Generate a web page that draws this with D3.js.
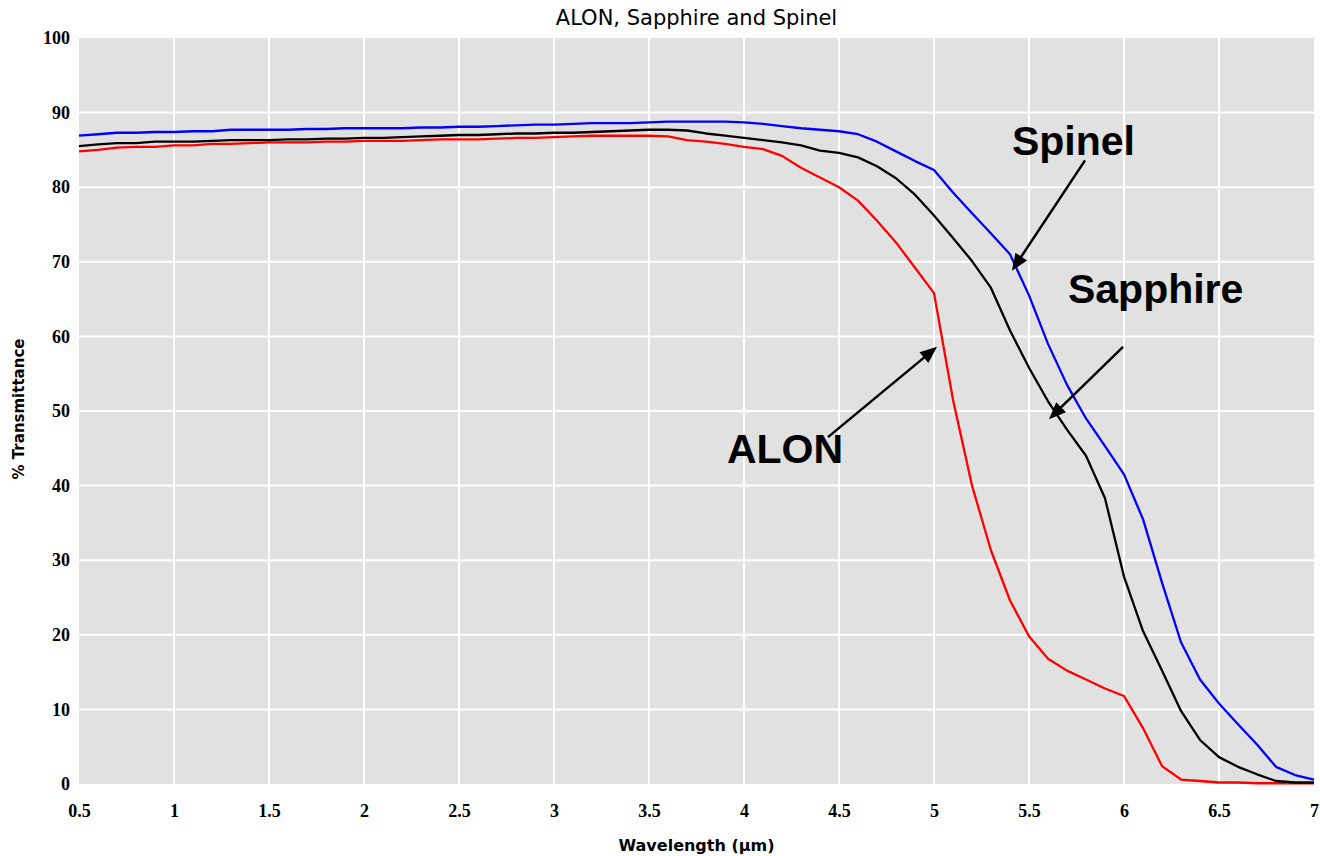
<!DOCTYPE html>
<html>
<head>
<meta charset="utf-8">
<script src="https://cdn.jsdelivr.net/npm/d3@7"></script>
<style>
  html, body { margin: 0; padding: 0; background: #ffffff; }
  svg { display: block; }
</style>
</head>
<body>
<svg id="chart" width="1320" height="856"></svg>
<script>
// ---------- data ----------
const wavelength = [0.5,0.6,0.7,0.8,0.9,1.0,1.1,1.2,1.3,1.4,1.5,1.6,1.7,1.8,1.9,2.0,2.1,2.2,2.3,2.4,2.5,2.6,2.7,2.8,2.9,3.0,3.1,3.2,3.3,3.4,3.5,3.6,3.7,3.8,3.9,4.0,4.1,4.2,4.3,4.4,4.5,4.6,4.7,4.8,4.9,5.0,5.1,5.2,5.3,5.4,5.5,5.6,5.7,5.8,5.9,6.0,6.1,6.2,6.3,6.4,6.5,6.6,6.7,6.8,6.9,7.0];

const spinel = [86.9,87.1,87.3,87.3,87.4,87.4,87.5,87.5,87.7,87.7,87.7,87.7,87.8,87.8,87.9,87.9,87.9,87.9,88.0,88.0,88.1,88.1,88.2,88.3,88.4,88.4,88.5,88.6,88.6,88.6,88.7,88.8,88.8,88.8,88.8,88.7,88.5,88.2,87.9,87.7,87.5,87.1,86.1,84.8,83.5,82.3,79.3,76.5,73.8,71.0,65.5,59.0,53.5,49.0,45.3,41.5,35.5,27.0,19.0,14.0,10.8,8.0,5.3,2.3,1.2,0.6];

const sapphire = [85.5,85.75,85.9,85.9,86.1,86.1,86.1,86.2,86.3,86.3,86.3,86.4,86.4,86.5,86.5,86.6,86.6,86.7,86.8,86.9,87.0,87.0,87.1,87.2,87.2,87.3,87.3,87.4,87.5,87.6,87.7,87.7,87.6,87.2,86.9,86.6,86.3,86.0,85.6,84.9,84.6,84.0,82.8,81.2,79.0,76.2,73.2,70.1,66.5,60.8,55.8,51.3,47.5,44.0,38.3,27.8,20.5,15.2,9.8,5.9,3.6,2.3,1.3,0.4,0.2,0.2];

const alon = [84.8,85.0,85.3,85.4,85.4,85.6,85.6,85.8,85.8,85.9,86.0,86.0,86.0,86.1,86.1,86.2,86.2,86.2,86.3,86.4,86.4,86.4,86.5,86.6,86.6,86.7,86.8,86.9,86.9,86.9,86.9,86.8,86.3,86.1,85.8,85.4,85.1,84.2,82.6,81.3,80.0,78.2,75.5,72.6,69.2,65.8,51.5,40.0,31.3,24.6,19.8,16.8,15.2,14.0,12.8,11.8,7.5,2.4,0.6,0.4,0.2,0.2,0.1,0.1,0.1,0.1];

const seriesNames = ["ALON", "Sapphire", "Spinel"];
const seriesValues = [alon, sapphire, spinel];
const seriesColors = ["#ff0000", "#000000", "#0000ff"];

const xTicks = [0.5,1,1.5,2,2.5,3,3.5,4,4.5,5,5.5,6,6.5,7];
const yTicks = [0,10,20,30,40,50,60,70,80,90,100];

const titleText = "ALON, Sapphire and Spinel";
const xTitle = "Wavelength (\u00b5m)";
const yTitle = "% Transmittance";

// annotations in data coordinates: label position, arrow start, arrow tip
const annotLabels = ["Spinel", "Sapphire", "ALON"];
const annotLabelPos = [[5.41, 84.3], [5.705, 64.5], [3.91, 43.0]];
const annotArrowFrom = [[5.795, 83.6], [5.995, 58.6], [4.442, 46.5]];
const annotArrowTo = [[5.41, 68.8], [5.605, 48.9], [5.016, 58.6]];

// ---------- layout ----------
const W = 1320, H = 856;
const margin = {left: 79, top: 38, right: 6, bottom: 72};
const pw = W - margin.left - margin.right;
const ph = H - margin.top - margin.bottom;

const svg = d3.select("#chart");
const x = d3.scaleLinear().domain([0.5, 7]).range([margin.left, margin.left + pw]);
const y = d3.scaleLinear().domain([0, 100]).range([margin.top + ph, margin.top]);

// plot background
svg.append("rect")
  .attr("x", margin.left).attr("y", margin.top)
  .attr("width", pw).attr("height", ph)
  .attr("fill", "#e1e1e1");

// grid
const grid = svg.append("g");
grid.selectAll("line.v").data(xTicks.filter(t => t > 0.5 && t < 7)).join("line")
  .attr("x1", d => x(d)).attr("x2", d => x(d))
  .attr("y1", margin.top).attr("y2", margin.top + ph)
  .attr("stroke", "#ffffff").attr("stroke-width", 2);
grid.selectAll("line.h").data(yTicks.filter(t => t > 0 && t < 100)).join("line")
  .attr("y1", d => y(d)).attr("y2", d => y(d))
  .attr("x1", margin.left).attr("x2", margin.left + pw)
  .attr("stroke", "#ffffff").attr("stroke-width", 2);

// axes (labels only)
const xAxis = d3.axisBottom(x).tickValues(xTicks).tickSize(0).tickPadding(20)
  .tickFormat(d => d3.format("~g")(d));
const gx = svg.append("g").attr("transform", `translate(0,${margin.top + ph})`).call(xAxis);
gx.select(".domain").remove();
gx.selectAll("text")
  .attr("font-family", "'Liberation Serif', 'Times New Roman', serif")
  .attr("font-weight", "bold").attr("font-size", 18).attr("fill", "#000");

const yAxis = d3.axisLeft(y).tickValues(yTicks).tickSize(0).tickPadding(9);
const gy = svg.append("g").attr("transform", `translate(${margin.left},0)`).call(yAxis);
gy.select(".domain").remove();
gy.selectAll("text")
  .attr("font-family", "'Liberation Serif', 'Times New Roman', serif")
  .attr("font-weight", "bold").attr("font-size", 18).attr("fill", "#000");

// lines
const line = d3.line().x((d, i) => x(wavelength[i])).y(d => y(d));
svg.append("g").selectAll("path").data(seriesValues).join("path")
  .attr("d", d => line(d))
  .attr("fill", "none")
  .attr("stroke", (d, i) => seriesColors[i])
  .attr("stroke-width", 2.3)
  .attr("stroke-linejoin", "round");

// titles
svg.append("text")
  .attr("x", x(3.75)).attr("y", 25)
  .attr("text-anchor", "middle")
  .attr("font-family", "'DejaVu Sans', Verdana, sans-serif")
  .attr("font-size", 21)
  .attr("fill", "#000")
  .text(titleText);

svg.append("text")
  .attr("x", x(3.75)).attr("y", 851)
  .attr("text-anchor", "middle")
  .attr("font-family", "'DejaVu Sans', Verdana, sans-serif")
  .attr("font-weight", "bold")
  .attr("font-size", 16)
  .attr("fill", "#000")
  .text(xTitle);

svg.append("text")
  .attr("transform", `translate(24,${y(50) - 2}) rotate(-90)`)
  .attr("text-anchor", "middle")
  .attr("font-family", "'DejaVu Sans', Verdana, sans-serif")
  .attr("font-weight", "bold")
  .attr("font-size", 15)
  .attr("fill", "#000")
  .text(yTitle);

// annotations
const ann = svg.append("g");
ann.selectAll("text").data(annotLabels).join("text")
  .attr("x", (d, i) => x(annotLabelPos[i][0]))
  .attr("y", (d, i) => y(annotLabelPos[i][1]))
  .attr("font-family", "'Liberation Sans', Arial, sans-serif")
  .attr("font-weight", "bold")
  .attr("font-size", 41)
  .attr("fill", "#000")
  .text(d => d);

const headLen = 17, headHalf = 7;
annotLabels.forEach((name, i) => {
  const x1 = x(annotArrowFrom[i][0]), y1 = y(annotArrowFrom[i][1]);
  const x2 = x(annotArrowTo[i][0]), y2 = y(annotArrowTo[i][1]);
  const dx = x2 - x1, dy = y2 - y1, len = Math.hypot(dx, dy);
  const ux = dx / len, uy = dy / len;
  const bx = x2 - ux * headLen, by = y2 - uy * headLen;
  ann.append("line")
    .attr("x1", x1).attr("y1", y1)
    .attr("x2", bx + ux * 2).attr("y2", by + uy * 2)
    .attr("stroke", "#000").attr("stroke-width", 2.5);
  ann.append("path")
    .attr("d", `M${x2},${y2}L${bx - uy * headHalf},${by + ux * headHalf}L${bx + uy * headHalf},${by - ux * headHalf}Z`)
    .attr("fill", "#000");
});
</script>
</body>
</html>
